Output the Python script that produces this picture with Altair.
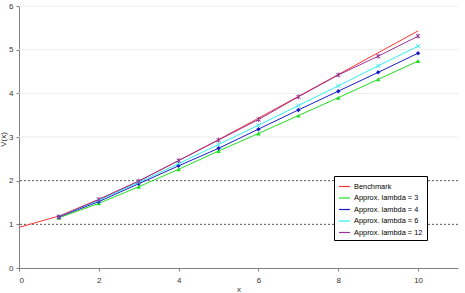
import altair as alt
import pandas as pd

bench_x = [0, 1, 2, 3, 4, 5, 6, 7, 8, 9, 10]
bench_y = [0.93, 1.19, 1.57, 1.99, 2.46, 2.94, 3.43, 3.93, 4.43, 4.93, 5.43]

approx_x = [1, 2, 3, 4, 5, 6, 7, 8, 9, 10]
lam3 = [1.15, 1.48, 1.86, 2.26, 2.68, 3.08, 3.49, 3.90, 4.32, 4.74]
lam4 = [1.17, 1.52, 1.93, 2.34, 2.74, 3.18, 3.62, 4.05, 4.48, 4.92]
lam6 = [1.18, 1.55, 1.96, 2.39, 2.83, 3.27, 3.72, 4.17, 4.63, 5.08]
lam12 = [1.17, 1.57, 1.99, 2.46, 2.93, 3.40, 3.92, 4.42, 4.85, 5.31]

series_names = ["Benchmark", "Approx. lambda = 3", "Approx. lambda = 4",
                "Approx. lambda = 6", "Approx. lambda = 12"]
series_colors = ["#ff3333", "#22dd22", "#1a1acc", "#33eeee", "#993399"]

grid_dashed = [1, 2]
grid_light = [3, 4, 5, 6]

rows = [{"x": a, "y": b, "s": series_names[0]} for a, b in zip(bench_x, bench_y)]
for name, vals in zip(series_names[1:], [lam3, lam4, lam6, lam12]):
    rows += [{"x": a, "y": b, "s": name} for a, b in zip(approx_x, vals)]
df = pd.DataFrame(rows)

xs = alt.Scale(domain=[0, 11], nice=False)
ys = alt.Scale(domain=[0, 6], nice=False)
cs = alt.Scale(domain=series_names, range=series_colors)

X = alt.X("x:Q", scale=xs, title="x",
          axis=alt.Axis(values=list(range(12)), grid=False, tickSize=3,
                        labelPadding=5, titlePadding=1))
Y = alt.Y("y:Q", scale=ys, title="V(x)",
          axis=alt.Axis(values=list(range(7)), grid=False, tickSize=3,
                        labelPadding=3, titleX=-16, titleY=133,
                        titleBaseline="middle", titleAlign="center"))

legend = alt.Legend(title=None, orient="none", legendX=315, legendY=170,
                    symbolType="stroke", symbolSize=120, symbolStrokeWidth=1.2,
                    strokeColor="#000000", fillColor="white", padding=4,
                    labelFontSize=7.4, labelColor="#000000", rowPadding=1.5,
                    labelOffset=3, labelLimit=200)

g1 = alt.Chart(pd.DataFrame({"g": grid_dashed})).mark_rule(
    color="#555555", strokeDash=[2, 2], strokeWidth=1).encode(
    y=alt.Y("g:Q", scale=ys))
g2 = alt.Chart(pd.DataFrame({"g": grid_light})).mark_rule(
    color="#ececec", strokeWidth=1).encode(y=alt.Y("g:Q", scale=ys))

base = alt.Chart(df)
lines = base.mark_line(strokeWidth=1).encode(
    x=X, y=Y, color=alt.Color("s:N", scale=cs, legend=legend, sort=series_names))

shape_scale = alt.Scale(
    domain=series_names[1:],
    range=["triangle-up", "diamond",
           "M-1,-1L1,1M-1,1L1,-1",
           "M-1,-1L1,1M-1,1L1,-1M0,-1.2L0,1.2"])

pts_filled = base.transform_filter(
    alt.FieldOneOfPredicate(field="s", oneOf=series_names[1:3])
).mark_point(filled=True, size=20, opacity=1).encode(
    x="x:Q", y="y:Q",
    color=alt.Color("s:N", scale=cs, legend=legend, sort=series_names),
    shape=alt.Shape("s:N", scale=shape_scale, legend=None))

pts_open = base.transform_filter(
    alt.FieldOneOfPredicate(field="s", oneOf=series_names[3:5])
).mark_point(filled=False, size=16, strokeWidth=1, opacity=1).encode(
    x="x:Q", y="y:Q",
    color=alt.Color("s:N", scale=cs, legend=legend, sort=series_names),
    shape=alt.Shape("s:N", scale=shape_scale, legend=None))

chart = alt.layer(g2, g1, lines, pts_filled, pts_open).properties(
    width=439, height=262,
    autosize=alt.AutoSizeParams(type="none"),
    padding={"left": 19, "top": 6, "right": 7, "bottom": 25},
).configure_view(stroke=None).configure_axis(
    domainColor="#808080", tickColor="#808080", labelFont="Liberation Sans",
    titleFont="Liberation Sans", labelFontSize=8, titleFontSize=8,
    labelColor="#333333", titleColor="#333333", titleFontWeight="normal",
).configure_legend(labelFont="Liberation Sans")

chart.save("out.html", embed_options={"renderer": "svg", "actions": False})
